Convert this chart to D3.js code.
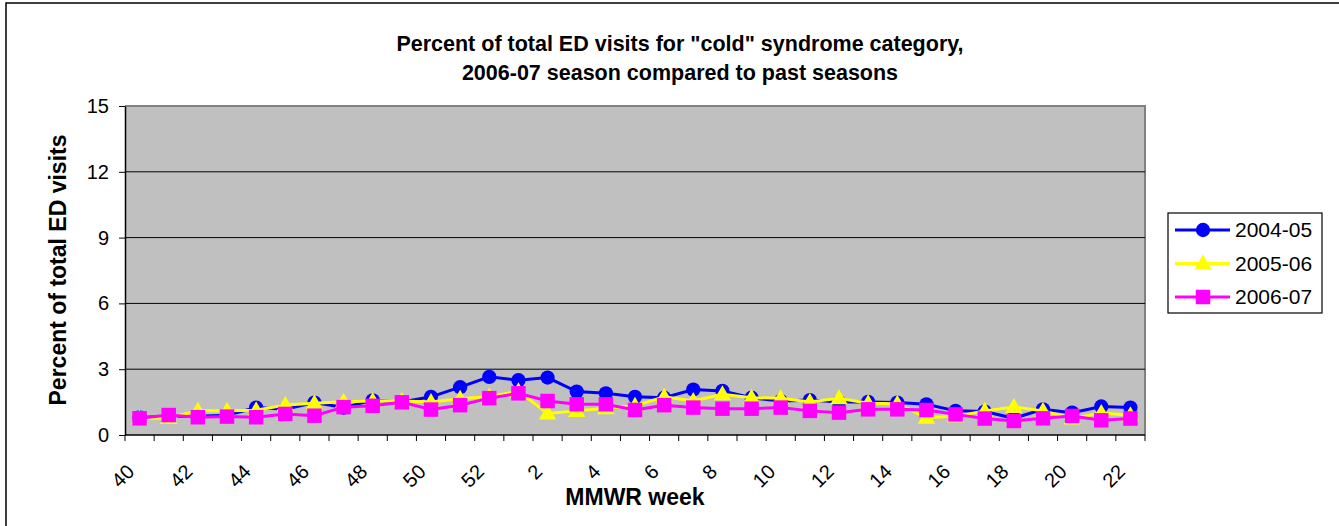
<!DOCTYPE html>
<html>
<head>
<meta charset="utf-8">
<script src="https://cdn.jsdelivr.net/npm/d3@7"></script>
<style>
	body { margin: 0; background: #fff; }
	svg text { font-family: Arial, "Liberation Sans", sans-serif; fill: #000; }
</style>
</head>
<body>
<svg id="chart" width="1339" height="526"></svg>
<script>
// MMWR weeks, season runs week 40 through week 22
const weeks = [40, 41, 42, 43, 44, 45, 46, 47, 48, 49, 50, 51, 52,
	1, 2, 3, 4, 5, 6, 7, 8, 9, 10, 11, 12, 13, 14, 15, 16, 17, 18, 19, 20, 21, 22];
const weekLabels = weeks.map((w) => (w % 2 === 0 ? String(w) : ''));
const yTicks = [0, 3, 6, 9, 12, 15];

// percent of total ED visits
const s2004 = [0.8, 0.85, 0.85, 0.9, 1.25, 1.17, 1.48, 1.25, 1.58, 1.51, 1.74, 2.18, 2.65,
	2.5, 2.62, 1.98, 1.9, 1.74, 1.7, 2.07, 2.01, 1.7, 1.55, 1.59, 1.5, 1.51, 1.48, 1.4,
	1.1, 1.07, 0.76, 1.17, 1.02, 1.3, 1.25];
const s2005 = [0.75, 0.78, 1.1, 1.1, 1.13, 1.37, 1.45, 1.52, 1.55, 1.55, 1.5, 1.65, 1.75,
	2.0, 0.98, 1.1, 1.22, 1.33, 1.74, 1.55, 1.86, 1.7, 1.68, 1.5, 1.68, 1.45, 1.43, 0.79,
	0.85, 1.1, 1.28, 1.1, 0.75, 1.0, 0.9];
const s2006 = [0.76, 0.91, 0.81, 0.84, 0.81, 0.96, 0.88, 1.27, 1.33, 1.49, 1.16, 1.36, 1.68,
	1.9, 1.55, 1.4, 1.4, 1.14, 1.36, 1.25, 1.2, 1.2, 1.25, 1.1, 1.02, 1.17, 1.17, 1.14,
	0.94, 0.75, 0.64, 0.76, 0.87, 0.67, 0.75];

const seriesNames = ['2004-05', '2005-06', '2006-07'];
const seriesColors = ['#0000FF', '#FFFF00', '#FF00FF'];
const seriesShapes = [d3.symbolCircle, d3.symbolTriangle, d3.symbolSquare];
const seriesValues = [s2004, s2005, s2006];

let svg = d3.select('#chart');
let
	plotLeft = 125,
	plotRight = 1145,
	plotTop = 106,
	plotBottom = 435
;

// outer chart border (runs off the picture on right and bottom)
svg.append('rect')
	.attr('x', 6).attr('y', 3)
	.attr('width', 1400).attr('height', 600)
	.attr('fill', 'none').attr('stroke', '#000').attr('stroke-width', 1.5);

const x = d3.scaleBand().domain(d3.range(weeks.length)).range([plotLeft, plotRight]).padding(0);
const y = d3.scaleLinear().domain([0, 15]).range([plotBottom, plotTop]);
const cx = (i) => x(i) + x.bandwidth() / 2;
const markerSize = (k) => (k === 2 ? 210 : (k === 1 ? 130 : 160));

// plot area
svg.append('rect')
	.attr('x', plotLeft).attr('y', plotTop)
	.attr('width', plotRight - plotLeft).attr('height', plotBottom - plotTop)
	.attr('fill', '#C0C0C0');
svg.append('path')
	.attr('d', `M${plotLeft},${plotTop}H${plotRight}V${plotBottom}`)
	.attr('fill', 'none').attr('stroke', '#808080').attr('stroke-width', 2);

// gridlines
svg.append('g')
	.selectAll('line')
	.data(yTicks.filter((t) => t > 0 && t < 15))
	.enter()
	.append('line')
	.attr('x1', plotLeft).attr('x2', plotRight)
	.attr('y1', (d) => y(d)).attr('y2', (d) => y(d))
	.attr('stroke', '#000').attr('stroke-width', 1);

// y axis
let yAxis = svg.append('g')
	.attr('transform', `translate(${plotLeft},0)`)
	.call(d3.axisLeft(y).tickValues(yTicks).tickSize(6).tickSizeOuter(0).tickPadding(10));
yAxis.select('.domain').attr('stroke', '#000').attr('stroke-width', 1.5);
yAxis.selectAll('.tick line').attr('stroke', '#000');
yAxis.selectAll('.tick text')
	.style('font-size', '20px')
	.attr('font-family', 'Arial, "Liberation Sans", sans-serif');

// x axis, ticks sit between categories
let xg = svg.append('g');
xg.append('line')
	.attr('x1', plotLeft).attr('x2', plotRight)
	.attr('y1', plotBottom).attr('y2', plotBottom)
	.attr('stroke', '#000').attr('stroke-width', 1.5);
xg.selectAll('line.tick')
	.data(d3.range(weeks.length + 1))
	.enter()
	.append('line')
	.attr('class', 'tick')
	.attr('x1', (i) => (i < weeks.length ? x(i) : plotRight))
	.attr('x2', (i) => (i < weeks.length ? x(i) : plotRight))
	.attr('y1', plotBottom).attr('y2', plotBottom + 6)
	.attr('stroke', '#000');
xg.selectAll('text')
	.data(weekLabels)
	.enter()
	.append('text')
	.attr('transform', (d, i) => `translate(${cx(i) - 4},${plotBottom + 38}) rotate(-45)`)
	.attr('text-anchor', 'end')
	.style('font-size', '20px')
	.text((d) => d);

// series: lines then markers
const line = d3.line().x((d, i) => cx(i)).y((d) => y(d));
seriesValues.forEach((vals, k) => {
	let g = svg.append('g');
	g.append('path')
		.datum(vals)
		.attr('d', line)
		.attr('fill', 'none')
		.attr('stroke', seriesColors[k])
		.attr('stroke-width', 3);
	g.selectAll('path.pt')
		.data(vals)
		.enter()
		.append('path')
		.attr('class', 'pt')
		.attr('d', d3.symbol().type(seriesShapes[k]).size(markerSize(k)))
		.attr('transform', (d, i) => `translate(${cx(i)},${y(d) + (k === 1 ? 1 : 0)})`)
		.attr('fill', seriesColors[k]);
});

// titles
svg.append('text')
	.attr('x', 680).attr('y', 51)
	.attr('text-anchor', 'middle')
	.style('font-size', '21.5px').style('font-weight', 'bold')
	.text('Percent of total ED visits for "cold" syndrome category,');
svg.append('text')
	.attr('x', 680).attr('y', 80)
	.attr('text-anchor', 'middle')
	.style('font-size', '21.5px').style('font-weight', 'bold')
	.text('2006-07 season compared to past seasons');
svg.append('text')
	.attr('transform', 'translate(66,270) rotate(-90)')
	.attr('text-anchor', 'middle')
	.style('font-size', '23px').style('font-weight', 'bold')
	.text('Percent of total ED visits');
svg.append('text')
	.attr('x', 635).attr('y', 505)
	.attr('text-anchor', 'middle')
	.style('font-size', '23px').style('font-weight', 'bold')
	.text('MMWR week');

// legend
let legend = svg.append('g');
legend.append('rect')
	.attr('x', 1168).attr('y', 213)
	.attr('width', 154).attr('height', 100)
	.attr('fill', '#fff').attr('stroke', '#000').attr('stroke-width', 1.2);
seriesNames.forEach((name, k) => {
	let ly = 230 + k * 33.5;
	legend.append('line')
		.attr('x1', 1175).attr('x2', 1230)
		.attr('y1', ly).attr('y2', ly)
		.attr('stroke', seriesColors[k]).attr('stroke-width', 3);
	legend.append('path')
		.attr('d', d3.symbol().type(seriesShapes[k]).size(markerSize(k)))
		.attr('transform', `translate(1203,${ly + (k === 1 ? 1 : 0)})`)
		.attr('fill', seriesColors[k]);
	legend.append('text')
		.attr('x', 1235).attr('y', ly)
		.attr('dy', '0.35em')
		.style('font-size', '21px')
		.text(name);
});
</script>
</body>
</html>
